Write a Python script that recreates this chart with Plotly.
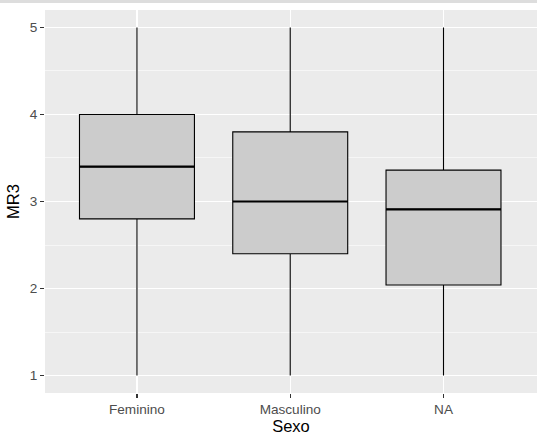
import plotly.graph_objects as go

categories = ["Feminino", "Masculino", "NA"]
lower = [1.0, 1.0, 1.0]
q1 = [2.8, 2.4, 2.04]
median = [3.4, 3.0, 2.91]
q3 = [4.0, 3.8, 3.36]
upper = [5.0, 5.0, 5.0]
y_ticks = [1, 2, 3, 4, 5]

fig = go.Figure()
fig.add_trace(go.Box(
    x=categories, q1=q1, median=median, q3=q3,
    lowerfence=lower, upperfence=upper,
    fillcolor="#CCCCCC", line=dict(color="black", width=1.1),
    whiskerwidth=0, width=0.75, boxpoints=False, hoverinfo="skip",
    showlegend=False,
))
# thicker median line (ggplot fatten)
fig.add_trace(go.Box(
    x=categories, q1=median, median=median, q3=median,
    lowerfence=median, upperfence=median,
    fillcolor="rgba(0,0,0,0)", line=dict(color="black", width=2.2),
    whiskerwidth=0, width=0.75, boxpoints=False, hoverinfo="skip",
    showlegend=False,
))

tickfont = dict(family="Liberation Sans, Arial, sans-serif", size=13.6, color="#4D4D4D")
titlefont = dict(family="Liberation Sans, Arial, sans-serif", size=16.5, color="black")

fig.update_layout(
    width=537, height=436,
    margin=dict(l=45, r=0, t=10, b=43),
    paper_bgcolor="white", plot_bgcolor="#EBEBEB",
    boxmode="overlay",
    xaxis=dict(
        type="category", categoryorder="array", categoryarray=categories,
        range=[-0.6, 2.61], showgrid=True, gridcolor="white", gridwidth=1.1,
        ticks="outside", ticklen=4, tickwidth=1.1, tickcolor="#333333",
        tickfont=tickfont, zeroline=False, showline=False,
        title=dict(text="Sexo", font=titlefont, standoff=2),
        automargin=False,
    ),
    yaxis=dict(
        range=[0.8, 5.2], tickvals=y_ticks, showgrid=True, gridcolor="white",
        gridwidth=1.1, ticks="outside", ticklen=4, tickwidth=1.1,
        tickcolor="#333333", tickfont=tickfont, zeroline=False, showline=False,
        minor=dict(dtick=0.5, showgrid=True, gridcolor="white", gridwidth=0.55, ticks=""),
        title=dict(text="MR3", font=titlefont, standoff=5),
        automargin=False,
    ),
)
fig.add_shape(type="rect", xref="paper", yref="paper", x0=-0.1, x1=1.0,
              y0=1.0 + 7 / 383, y1=1.0 + 10 / 383, fillcolor="#DDDDDD", line_width=0)

fig.write_html(
    "out.html",
    config={"displayModeBar": False, "staticPlot": True},
    post_script="document.body.style.margin='0';document.body.style.overflow='hidden';",
)
